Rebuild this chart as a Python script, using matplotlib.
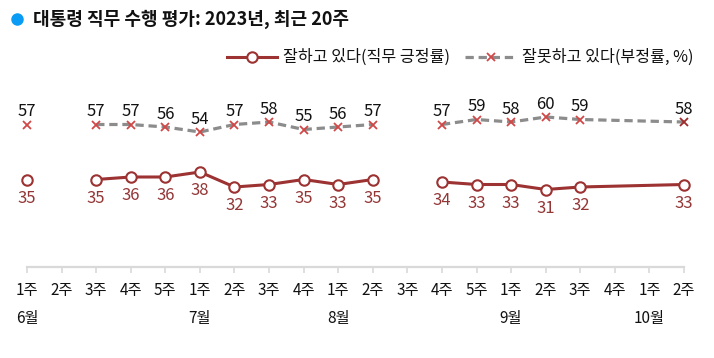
import matplotlib
matplotlib.use('Agg')
import matplotlib.pyplot as plt
import matplotlib.transforms as mtransforms
from matplotlib.lines import Line2D

plt.rcParams['font.family'] = ['Noto Sans CJK KR', 'DejaVu Sans']

# data
weeks = ['1주', '2주', '3주', '4주', '5주', '1주', '2주', '3주', '4주', '1주',
         '2주', '3주', '4주', '5주', '1주', '2주', '3주', '4주', '1주', '2주']
months = {0: '6월', 5: '7월', 9: '8월', 14: '9월', 18: '10월'}
approve = [35, None, 35, 36, 36, 38, 32, 33, 35, 33,
           35, None, 34, 33, 33, 31, 32, None, None, 33]
disapprove = [57, None, 57, 57, 56, 54, 57, 58, 55, 56,
              57, None, 57, 59, 58, 60, 59, None, None, 58]
# connected runs of the lines
segments = [[0], [2, 3, 4, 5, 6, 7, 8, 9, 10], [12, 13, 14, 15, 16, 19]]

title = '대통령 직무 수행 평가: 2023년, 최근 20주'
label_pos = '잘하고 있다(직무 긍정률)'
label_neg = '잘못하고 있다(부정률, %)'

RED = '#9c3232'
RED_TXT = '#943636'
XRED = '#d04848'
GRAY = '#8c8c8c'
AXIS = '#d9d9d9'

W, H = 714, 358
fig = plt.figure(figsize=(W / 100, H / 100), dpi=100)
ax = fig.add_axes([27 / W, (H - 267) / H, (684 - 27) / W, (267 - 90) / H])
ax.set_xlim(0, 19)
ax.set_ylim(0, 177 / 2.5)

for seg in segments:
    ys_neg = [disapprove[i] for i in seg]
    ys_pos = [approve[i] for i in seg]
    ax.plot(seg, ys_neg, color=GRAY, lw=2.3, linestyle=(0, (2.6, 1.5)),
            solid_capstyle='butt', clip_on=False, zorder=2)
    ax.plot(seg, ys_pos, color=RED, lw=2.2, clip_on=False, zorder=2)

for i in range(len(weeks)):
    if disapprove[i] is not None:
        mc = '#a02a2a' if i == len(weeks) - 1 else XRED
        ax.plot(i, disapprove[i], marker='x', ms=6, mew=1.3, color=mc,
                linestyle='none', clip_on=False, zorder=3)
        ax.annotate(str(disapprove[i]), (i, disapprove[i]), xytext=(0, 9.2),
                    textcoords='offset points', ha='center', va='center',
                    fontsize=12, color='#111111')
    if approve[i] is not None:
        ax.plot(i, approve[i], marker='o', ms=7.5, mew=1.5, mfc='white',
                mec=RED, linestyle='none', clip_on=False, zorder=3)
        ax.annotate(str(approve[i]), (i, approve[i]), xytext=(0, -13.4),
                    textcoords='offset points', ha='center', va='center',
                    fontsize=12, color=RED_TXT)

# axes styling
for s in ['top', 'right', 'left']:
    ax.spines[s].set_visible(False)
ax.spines['bottom'].set_color(AXIS)
ax.spines['bottom'].set_linewidth(1.6)
ax.set_yticks([])
ax.set_xticks(range(len(weeks)))
ax.set_xticklabels(weeks, fontsize=11, color='#111111')
ax.tick_params(axis='x', length=4.5, width=1.2, color=AXIS, pad=6)

trans = mtransforms.blended_transform_factory(ax.transData, fig.transFigure)
for i, m in months.items():
    ax.text(i, (H - 319) / H, m, transform=trans, ha='center', va='center',
            fontsize=11, color='#111111')

# title
fig.add_artist(Line2D([17 / W], [(H - 19) / H], marker='o', ms=9, color='#0a9cf5',
                      mec='none', transform=fig.transFigure))
fig.text(33 / W, (H - 19) / H, title, ha='left', va='center', fontsize=13,
         fontweight='bold', color='#111111')

# legend
ly = (H - 57) / H
fig.add_artist(Line2D([227 / W, 277 / W], [ly, ly], color=RED, lw=2.2,
                      transform=fig.transFigure))
fig.add_artist(Line2D([252 / W], [ly], marker='o', ms=7.5, mew=1.5, mfc='white',
                      mec=RED, transform=fig.transFigure))
fig.text(283 / W, ly, label_pos, ha='left', va='center', fontsize=11.6, color='#111111')
fig.add_artist(Line2D([465 / W, 515 / W], [ly, ly], color=GRAY, lw=2.3,
                      linestyle=(0, (2.6, 1.5)), transform=fig.transFigure))
fig.add_artist(Line2D([491 / W], [ly], marker='x', ms=6, mew=1.3, color=XRED,
                      transform=fig.transFigure))
fig.text(522 / W, ly, label_neg, ha='left', va='center', fontsize=11.6, color='#111111')

fig.savefig('out.png', dpi=100)
